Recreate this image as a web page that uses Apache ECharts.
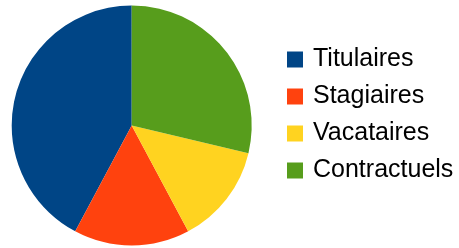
<!DOCTYPE html>
<html>
<head>
<meta charset="utf-8">
<script src="https://cdn.jsdelivr.net/npm/echarts@6/dist/echarts.min.js"></script>
<style>html,body{margin:0;padding:0;background:#fff;}#c{width:459px;height:248px;}</style>
</head>
<body>
<div id="c"></div>
<script>
const categories = ["Titulaires", "Stagiaires", "Vacataires", "Contractuels"];
const values = [42.2, 15.6, 13.5, 28.7];
const colors = ["#004586", "#ff420e", "#ffd320", "#579d1c"];

const chart = echarts.init(document.getElementById('c'), null, {renderer: 'canvas'});
chart.setOption({
  animation: false,
  color: colors,
  legend: {
    orient: 'vertical',
    left: 282,
    top: 42,
    padding: 5,
    itemWidth: 16,
    itemHeight: 16,
    itemGap: 12,
    icon: 'rect',
    data: categories,
    textStyle: {fontFamily: 'Liberation Sans', fontSize: 25, color: '#000', lineHeight: 25, padding: [0,0,0,5]}
  },
  series: [{
    type: 'pie',
    center: [131.7, 125.5],
    radius: 120,
    startAngle: 90,
    clockwise: false,
    label: {show: false},
    labelLine: {show: false},
    emphasis: {disabled: true},
    itemStyle: {borderWidth: 0},
    data: categories.map((c, i) => ({name: c, value: values[i]}))
  }]
});
</script>
</body>
</html>
